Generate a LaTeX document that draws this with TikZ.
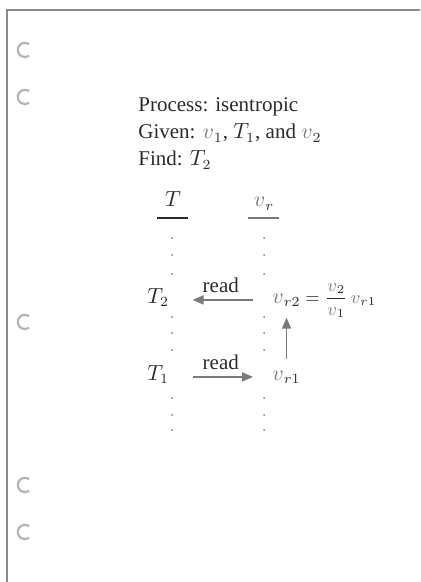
\documentclass[tikz,border=0pt]{standalone}
\usepackage{fontspec}
\setmainfont{Liberation Serif}
\usepackage{amsmath}
\usepackage{tikz}
\usetikzlibrary{arrows.meta,positioning}
\definecolor{inkgray}{HTML}{2A2A2A}
\definecolor{pencilgray}{HTML}{7A7A7A}
\definecolor{framegray}{HTML}{8C8C8C}
\definecolor{holegray}{HTML}{B4B4B4}
\newcommand{\sv}{\textcolor{pencilgray}{v}}

\begin{document}
\begin{tikzpicture}[x=0.5pt, y=-0.5pt,
  txt/.style={inner sep=0pt, anchor=base west, text=inkgray, font=\fontsize{10.5}{13.5}\selectfont},
  colhead/.style={inner sep=0pt, anchor=base, text=inkgray, font=\fontsize{10.5}{13.5}\selectfont, minimum width=15.5pt},
  readarr/.style={-{Triangle[length=5.5pt,width=4.5pt]}, line width=0.8pt, draw=pencilgray},
  readlbl/.style={above=3pt, inner sep=0pt, text=inkgray, font=\fontsize{10.5}{12}\selectfont},
  hole/.style={draw=holegray, line width=1.1pt}
]
\useasboundingbox (0,0) rectangle (420,582);
% page frame and punch holes
\draw[framegray, line width=1pt] (420,10) -- (7,10) -- (7,582);
\foreach \h in {50,97,322,485,532}
  \draw[hole] (25,\h) ++(55:3.6pt) arc[start angle=55, end angle=305, radius=3.6pt];

% problem statement (base = last line)
\node[txt, align=left] (given) at (138,166) {Process: isentropic\\Given: $\sv_1$, $T_1$, and $\sv_2$\\Find: $T_2$};

% table heads
\node[colhead] (headT) at (173,207) {$T$};
\node[colhead] (headV) at (264,207) {$\sv_r$};
\draw[inkgray, line width=0.6pt] (headT.base west) ++(0,11) -- ++(31,0);
\draw[pencilgray, line width=0.6pt] (headV.base west) ++(0,11) -- ++(31,0);

% dotted columns
\foreach \x in {172,264}
  \foreach \y in {238,255,274,317,333,350,398,415,430}
    \fill[pencilgray] (\x,\y) circle[radius=0.5pt];

% table entries
\node[txt] (Ttwo) at (147,303) {$T_2$};
\node[txt] (Tone) at (147,380) {$T_1$};
\node[txt] (vrtwo) at (272,303) {$\sv_{r2}$};
\node[right=2pt of vrtwo.base east, txt, font=\fontsize{9}{11}\selectfont] (ratio) {$= \dfrac{\sv_2}{\sv_1}\,\sv_{r1}$};
\node[txt] (vrone) at (272,380) {$\sv_{r1}$};

\draw[readarr, shorten <=9.5pt, shorten >=11.5pt] (vrtwo.west) -- (vrtwo.west -| Ttwo.east)
  node[midway, readlbl] {read};
\draw[readarr, shorten <=11.5pt, shorten >=9.5pt] (vrone.west -| Tone.east) -- (vrone.west)
  node[midway, readlbl] {read};
\draw[readarr, shorten <=5.5pt, shorten >=5.5pt] (vrone.north) -- (vrtwo.south);
\end{tikzpicture}
\end{document}
